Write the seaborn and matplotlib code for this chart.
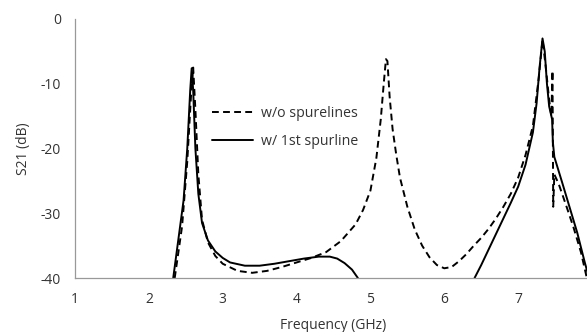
import numpy as np
import pandas as pd
import matplotlib
matplotlib.use("Agg")
import matplotlib.pyplot as plt
import seaborn as sns

# S21 without spurlines (dashed)
freq_wo = [2.35, 2.45, 2.52, 2.57, 2.60, 2.63, 2.67, 2.72, 2.80, 2.90, 3.00, 3.20,
           3.40, 3.60, 3.80, 4.00, 4.20, 4.40, 4.60, 4.80, 4.90, 5.00, 5.08, 5.14,
           5.18, 5.21, 5.23, 5.26, 5.30, 5.35, 5.40, 5.50, 5.60, 5.70, 5.80, 5.90,
           6.00, 6.10, 6.20, 6.30, 6.40, 6.50, 6.60, 6.70, 6.80, 6.90, 7.00, 7.10,
           7.20, 7.28, 7.33, 7.37, 7.42, 7.45, 7.465, 7.475, 7.49, 7.55, 7.65, 7.75,
           7.85, 7.93]
s21_wo = [-40, -32, -22, -12, -7.5, -14, -24, -31, -34.5, -36.6, -37.8, -38.9,
          -39.2, -38.9, -38.3, -37.6, -36.9, -36.0, -34.3, -31.7, -29.5, -26.5, -21.5, -15.5,
          -10, -6.2, -6.5, -12, -17, -21, -24.5, -29, -32.5, -35, -36.8, -38,
          -38.5, -38.3, -37.4, -36.3, -35, -33.8, -32.4, -30.8, -29.0, -27.0, -24.5, -21,
          -16.5, -9, -3.2, -7, -12.5, -15, -8, -29, -24, -25.5, -28.8, -32.2,
          -36, -40]

# S21 with 1st spurline (solid), two visible segments
freq_w1_a = [2.33, 2.40, 2.47, 2.52, 2.56, 2.58, 2.60, 2.63, 2.67, 2.72, 2.80, 2.90,
             3.00, 3.10, 3.30, 3.50, 3.70, 3.90, 4.10, 4.30, 4.45, 4.55, 4.65, 4.75, 4.83]
s21_w1_a = [-40, -34, -28, -20, -11, -7.6, -11, -20, -27, -31.5, -34.2, -35.9,
            -36.9, -37.6, -38.1, -38.1, -37.8, -37.4, -37.0, -36.7, -36.7, -37.0, -37.7, -38.7, -40]
freq_w1_b = [6.41, 6.50, 6.60, 6.70, 6.80, 6.90, 7.00, 7.10, 7.20, 7.25, 7.29, 7.33,
             7.36, 7.39, 7.42, 7.46, 7.47, 7.49, 7.60, 7.70, 7.80, 7.90, 7.96]
s21_w1_b = [-40, -38, -35.6, -33.2, -30.8, -28.4, -25.9, -22.5, -17.5, -13, -7.5, -3,
            -5, -10, -13.5, -15.5, -19, -21.3, -25.4, -29.2, -33, -37.5, -40]

x_ticks = [1, 2, 3, 4, 5, 6, 7]
y_ticks = [0, -10, -20, -30, -40]

sns.set_style("white")
plt.rcParams["font.family"] = ["Open Sans", "DejaVu Sans"]
plt.rcParams["axes.unicode_minus"] = False

fig = plt.figure(figsize=(5.87, 3.32), dpi=100)
ax = fig.add_axes([75 / 587, 54 / 332, 517 / 587, 259 / 332])

sns.lineplot(x=freq_wo, y=s21_wo, ax=ax, color="black", lw=1.4, sort=False,
             linestyle=(0, (3.5, 2.2)), label="w/o spurelines")
sns.lineplot(x=freq_w1_a, y=s21_w1_a, ax=ax, color="black", lw=1.4, sort=False,
             label="w/ 1st spurline")
sns.lineplot(x=freq_w1_b, y=s21_w1_b, ax=ax, color="black", lw=1.4, sort=False)

ax.set_xlim(1, 8)
ax.set_ylim(-40, 0)
ax.set_xticks(x_ticks)
ax.set_yticks(y_ticks)
ax.tick_params(labelsize=10, labelcolor="#333333", length=5, width=0.8,
               color="#999999", pad=5)
for side in ["top", "right"]:
    ax.spines[side].set_visible(False)
for side in ["left", "bottom"]:
    ax.spines[side].set_color("#999999")
    ax.spines[side].set_linewidth(0.9)

ax.set_xlabel("Frequency (GHz)", fontsize=10, color="#333333", labelpad=8)
ax.set_ylabel("S21 (dB)", fontsize=10, color="#333333", labelpad=7)

ax.legend(loc="upper left", bbox_to_anchor=(199 / 587, 1 - 93 / 332),
          bbox_transform=fig.transFigure, frameon=False, fontsize=10.2,
          handlelength=2.9, handletextpad=0.55, labelspacing=0.95,
          labelcolor="#333333")

fig.savefig("out.png", dpi=100)
